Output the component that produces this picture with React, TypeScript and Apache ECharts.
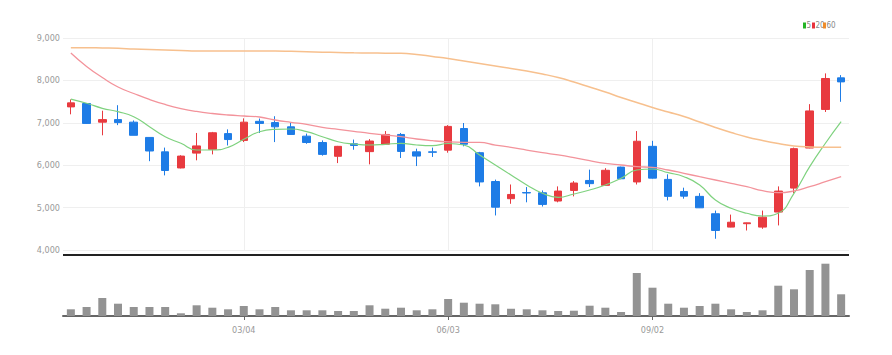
import React, { useEffect, useRef } from "react";
import * as echarts from "echarts";

const dates = [
  "12/18", "12/25", "01/01", "01/08", "01/15", "01/22", "01/29", "02/05", "02/12", "02/19",
  "02/26", "03/04", "03/11", "03/18", "03/25", "04/01", "04/08", "04/15", "04/22", "04/29",
  "05/06", "05/13", "05/20", "05/27", "06/03", "06/10", "06/17", "06/24", "07/01", "07/08",
  "07/15", "07/22", "07/29", "08/05", "08/12", "08/19", "08/26", "09/02", "09/09", "09/16",
  "09/23", "09/30", "10/07", "10/14", "10/21", "10/28", "11/04", "11/11", "11/18", "11/25",
];

const shownDates = ["03/04", "06/03", "09/02"];

// [open, close, low, high]
const candles = [
  [7375, 7470, 7200, 7550], [7455, 6985, 6975, 7465], [7015, 7075, 6705, 7285], [7075, 7005, 6945, 7415],
  [7015, 6705, 6705, 7055], [6655, 6335, 6095, 6655], [6315, 5875, 5760, 6415], [5935, 6215, 5925, 6235],
  [6285, 6455, 6115, 6760], [6375, 6765, 6255, 6785], [6745, 6605, 6465, 6845], [6585, 7015, 6545, 7105],
  [7035, 6985, 6760, 7100], [7005, 6905, 6545, 7155], [6905, 6725, 6715, 7005], [6685, 6535, 6505, 6745],
  [6535, 6255, 6225, 6585], [6210, 6445, 6050, 6455], [6505, 6465, 6365, 6605], [6320, 6570, 6020, 6615],
  [6495, 6725, 6485, 6805], [6725, 6325, 6170, 6760], [6315, 6215, 5980, 6390], [6315, 6305, 6195, 6415],
  [6355, 6915, 6295, 6945], [6865, 6495, 6445, 6995], [6295, 5605, 5500, 6315], [5615, 5010, 4815, 5660],
  [5210, 5310, 5090, 5545], [5355, 5345, 5125, 5485], [5350, 5075, 5025, 5405], [5155, 5390, 5125, 5500],
  [5405, 5580, 5265, 5625], [5640, 5565, 5485, 5895], [5525, 5880, 5515, 5930], [5955, 5680, 5670, 5965],
  [5605, 6565, 5545, 6805], [6445, 5695, 5685, 6575], [5665, 5265, 5170, 5785], [5380, 5270, 5210, 5470],
  [5265, 4995, 4990, 5340], [4855, 4460, 4265, 4930], [4540, 4655, 4535, 4835], [4620, 4640, 4460, 4645],
  [4540, 4775, 4500, 4930], [4895, 5390, 4580, 5500], [5460, 6390, 5340, 6415], [6405, 7280, 6400, 7440],
  [7315, 8045, 7255, 8165], [8060, 7965, 7495, 8125],
];

const ma5 = [
  7560, 7460, 7342, 7262, 7144, 6908, 6672, 6517, 6358, 6358,
  6422, 6611, 6790, 6847, 6854, 6790, 6672, 6554, 6500, 6476,
  6493, 6517, 6476, 6460, 6512, 6476, 6241, 6005, 5769, 5535,
  5337, 5243, 5321, 5415, 5533, 5691, 5887, 5910, 5823, 5729,
  5533, 5179, 4983, 4866, 4802, 4866, 5337, 5965, 6517, 7026,
];

const ma20 = [
  8646, 8328, 8068, 7844, 7691, 7550, 7432, 7337, 7267, 7219,
  7184, 7160, 7137, 7066, 7012, 6965, 6894, 6847, 6800, 6752,
  6712, 6672, 6618, 6578, 6550, 6540, 6540, 6476, 6422, 6358,
  6295, 6241, 6177, 6106, 6045, 6005, 5965, 5950, 5887, 5809,
  5729, 5651, 5573, 5493, 5399, 5351, 5392, 5493, 5611, 5729,
];

const ma60 = [
  8771, 8771, 8764, 8757, 8741, 8729, 8717, 8705, 8693, 8693,
  8693, 8693, 8693, 8693, 8686, 8675, 8665, 8658, 8651, 8646,
  8642, 8639, 8611, 8564, 8517, 8458, 8399, 8340, 8281, 8222,
  8151, 8068, 7962, 7844, 7726, 7597, 7479, 7361, 7255, 7149,
  7019, 6889, 6771, 6665, 6583, 6512, 6453, 6429, 6422, 6422,
];

// volume (thousand shares)
const volumes = [
  67, 90, 180, 123, 90, 90, 90, 27, 107, 83,
  67, 100, 67, 90, 57, 57, 57, 50, 50, 107,
  73, 83, 57, 67, 170, 133, 123, 117, 73, 67,
  57, 50, 53, 103, 83, 40, 430, 283, 123, 83,
  100, 123, 67, 40, 57, 303, 267, 460, 523, 217,
];

const priceTicks = [4000, 5000, 6000, 7000, 8000, 9000];

const legendItems = [
  { name: "5", color: "#25b425" },
  { name: "20", color: "#e8323c" },
  { name: "60", color: "#f08c28" },
];

const UP = "#e83a3f";
const DOWN = "#1e7ce6";
const FONT = "'Liberation Sans Narrow', 'DejaVu Sans Condensed', 'Roboto', sans-serif";

export default function App() {
  const ref = useRef<HTMLDivElement>(null);

  useEffect(() => {
    document.body.style.margin = "0";
    if (!ref.current) return;
    const chart = echarts.init(ref.current, undefined, { renderer: "svg" });
    const isShown = (i: number) => shownDates.includes(dates[i]);

    const legendX = [803, 812, 823];
    const graphics: any[] = [
      {
        type: "line",
        shape: { x1: 63, y1: 255, x2: 849, y2: 255 },
        style: { stroke: "#222", lineWidth: 2 },
      },
    ];
    legendItems.forEach((it, k) => {
      graphics.push({
        type: "rect",
        shape: { x: legendX[k], y: 22.5, width: 3, height: 6 },
        style: { fill: it.color },
      });
      graphics.push({
        type: "text",
        x: legendX[k] + 3.5,
        y: 25.5,
        style: {
          text: it.name,
          fill: "#888",
          fontSize: 8,
          fontFamily: FONT,
          verticalAlign: "middle",
          align: "left",
        },
      });
    });

    chart.setOption({
      animation: false,
      backgroundColor: "#fff",
      grid: [
        { left: 63, right: 43, top: 38, height: 212 },
        { left: 63, right: 43, top: 255, height: 61 },
      ],
      xAxis: [
        {
          type: "category",
          gridIndex: 0,
          data: dates,
          boundaryGap: true,
          axisLine: { show: false },
          axisTick: { show: false },
          axisLabel: { show: false },
          splitLine: { show: false },
        },
        {
          type: "category",
          gridIndex: 1,
          data: dates,
          boundaryGap: true,
          axisLine: { show: true, lineStyle: { color: "#666", width: 2 } },
          axisTick: {
            show: true,
            alignWithLabel: true,
            interval: (i: number) => isShown(i),
            length: 4,
            lineStyle: { color: "#666" },
          },
          axisLabel: {
            show: true,
            interval: (i: number) => isShown(i),
            color: "#999",
            fontSize: 9,
            fontFamily: FONT,
            margin: 9,
          },
          splitLine: { show: false },
        },
      ],
      yAxis: [
        {
          type: "value",
          gridIndex: 0,
          min: priceTicks[0],
          max: priceTicks[priceTicks.length - 1],
          interval: 1000,
          axisLine: { show: false },
          axisTick: { show: false },
          axisLabel: {
            color: "#999",
            fontSize: 9,
            fontFamily: FONT,
            margin: 3,
            formatter: (v: number) => v.toLocaleString("en-US"),
          },
          splitLine: { lineStyle: { color: "#efefef", width: 1 } },
        },
        {
          type: "value",
          gridIndex: 1,
          min: 0,
          max: 610,
          axisLine: { show: false },
          axisTick: { show: false },
          axisLabel: { show: false },
          splitLine: { show: false },
        },
      ],
      series: [
        {
          name: "price",
          type: "candlestick",
          xAxisIndex: 0,
          yAxisIndex: 0,
          data: candles,
          barWidth: 8,
          itemStyle: {
            color: UP,
            color0: DOWN,
            borderColor: UP,
            borderColor0: DOWN,
            borderWidth: 1,
          },
          markLine: {
            silent: true,
            symbol: "none",
            z: 0,
            label: { show: false },
            lineStyle: { color: "#efefef", type: "solid", width: 1 },
            data: shownDates.map((d) => ({ xAxis: d })),
          },
        },
        {
          name: "5",
          type: "line",
          data: ma5,
          smooth: true,
          symbol: "none",
          lineStyle: { color: "#7fd27f", width: 1.2 },
          itemStyle: { color: "#25b425" },
          z: 3,
        },
        {
          name: "20",
          type: "line",
          data: ma20,
          smooth: true,
          symbol: "none",
          lineStyle: { color: "#f3939b", width: 1.3 },
          itemStyle: { color: "#e8323c" },
          z: 3,
        },
        {
          name: "60",
          type: "line",
          data: ma60,
          smooth: true,
          symbol: "none",
          lineStyle: { color: "#f7c08e", width: 1.5 },
          itemStyle: { color: "#f08c28" },
          z: 3,
        },
        {
          name: "volume",
          type: "bar",
          xAxisIndex: 1,
          yAxisIndex: 1,
          data: volumes,
          barWidth: 8,
          itemStyle: { color: "#939393" },
        },
      ],
      graphic: graphics,
    });

    return () => chart.dispose();
  }, []);

  return (
    <div
      ref={ref}
      style={{ position: "absolute", left: 0, top: 0, width: 892, height: 355 }}
    />
  );
}
